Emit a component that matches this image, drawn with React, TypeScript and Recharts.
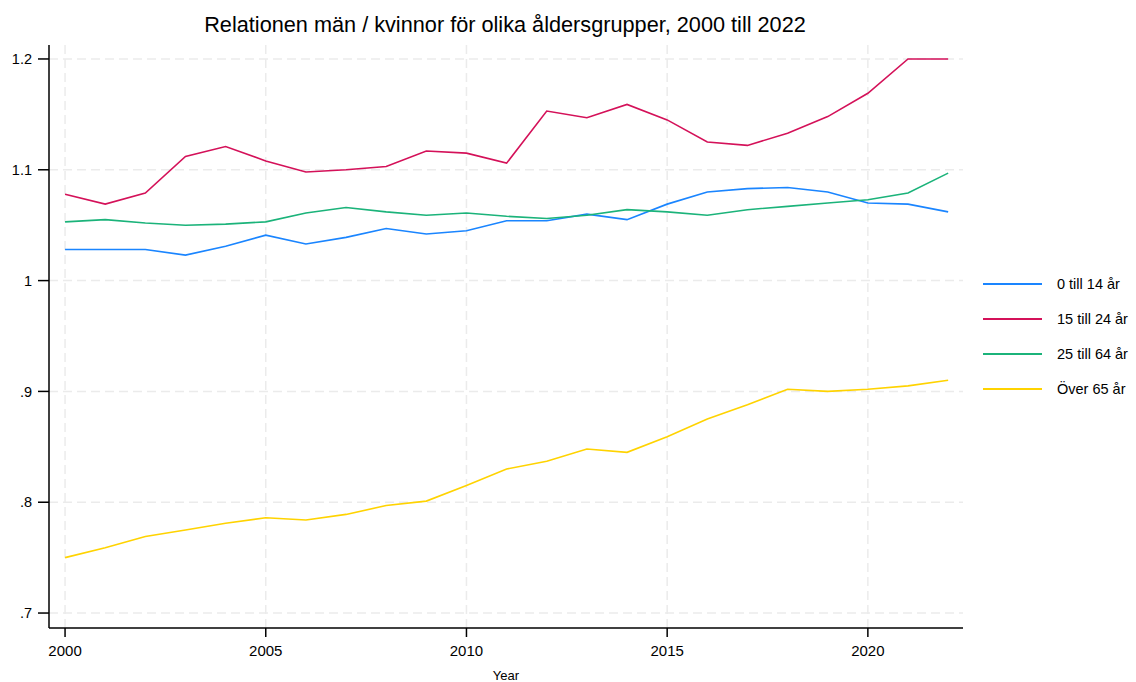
import React from 'react';
import { LineChart, Line, XAxis, YAxis, CartesianGrid, Legend } from 'recharts';

const years = [2000, 2001, 2002, 2003, 2004, 2005, 2006, 2007, 2008, 2009, 2010, 2011, 2012, 2013, 2014, 2015, 2016, 2017, 2018, 2019, 2020, 2021, 2022];
const age0to14 = [1.028, 1.028, 1.028, 1.023, 1.031, 1.041, 1.033, 1.039, 1.047, 1.042, 1.045, 1.054, 1.054, 1.060, 1.055, 1.069, 1.080, 1.083, 1.084, 1.080, 1.070, 1.069, 1.062];
const age15to24 = [1.078, 1.069, 1.079, 1.112, 1.121, 1.108, 1.098, 1.100, 1.103, 1.117, 1.115, 1.106, 1.153, 1.147, 1.159, 1.145, 1.125, 1.122, 1.133, 1.148, 1.169, 1.200, 1.200];
const age25to64 = [1.053, 1.055, 1.052, 1.050, 1.051, 1.053, 1.061, 1.066, 1.062, 1.059, 1.061, 1.058, 1.056, 1.059, 1.064, 1.062, 1.059, 1.064, 1.067, 1.070, 1.073, 1.079, 1.097];
const over65 = [0.750, 0.759, 0.769, 0.775, 0.781, 0.786, 0.784, 0.789, 0.797, 0.801, 0.815, 0.830, 0.837, 0.848, 0.845, 0.859, 0.875, 0.888, 0.902, 0.900, 0.902, 0.905, 0.910];

const seriesNames = ['0 till 14 år', '15 till 24 år', '25 till 64 år', 'Över 65 år'];
const seriesKeys = ['a', 'b', 'c', 'd'];
const seriesColors = ['#1a85ff', '#d41159', '#1bb37a', '#ffd300'];
const xTicks = [2000, 2005, 2010, 2015, 2020];
const yTicks = [0.7, 0.8, 0.9, 1.0, 1.1, 1.2];
const title = 'Relationen män / kvinnor för olika åldersgrupper, 2000 till 2022';
const xLabel = 'Year';

const data = years.map((y, i) => ({ year: y, a: age0to14[i], b: age15to24[i], c: age25to64[i], d: over65[i] }));

const FONT = '"Liberation Sans", Arial, sans-serif';

const fmtY = (v: number) => {
  const s = (Math.round(v * 10) / 10).toString();
  return s.startsWith('0.') ? s.slice(1) : s;
};

const LegendContent = () => (
  <div style={{ width: 173, fontFamily: FONT, fontSize: 14.5, color: '#000', position: 'relative', top: -5 }}>
    {seriesNames.map((n, i) => (
      <div key={n} style={{ display: 'flex', alignItems: 'center', height: 35 }}>
        <div style={{ marginLeft: 20, width: 59, height: 0, borderTop: `2px solid ${seriesColors[i]}` }} />
        <span style={{ marginLeft: 15, whiteSpace: 'pre' }}>{n}</span>
      </div>
    ))}
  </div>
);

export default function App() {
  return (
    <div style={{ position: 'absolute', left: 0, top: 0, width: 1136, height: 682, background: '#fff', fontFamily: FONT }}>
      <div style={{ position: 'absolute', left: 0, top: 12, width: 1010, textAlign: 'center', fontSize: 21.7, lineHeight: '26px', color: '#000' }}>{title}</div>
      <LineChart width={1136} height={682} data={data} margin={{ top: 45, right: 0, left: 0, bottom: 0 }}>
        <CartesianGrid stroke="#ebebeb" strokeWidth={1.5} strokeDasharray="9 5" verticalValues={xTicks} horizontalValues={yTicks} />
        <XAxis
          dataKey="year"
          type="number"
          domain={[1999.6, 2022.37]}
          ticks={xTicks}
          height={54}
          stroke="#000"
          strokeWidth={1.5}
          tickSize={9}
          tick={{ fill: '#000', fontSize: 15, fontFamily: FONT }}
          tickMargin={8}
          label={{ value: xLabel, position: 'insideBottom', offset: 2, fill: '#000', fontSize: 13, fontFamily: FONT }}
          allowDataOverflow
        />
        <YAxis
          type="number"
          domain={[0.6865, 1.2126]}
          ticks={yTicks}
          width={49}
          stroke="#000"
          strokeWidth={1.5}
          tickSize={11}
          tickMargin={6}
          tickFormatter={fmtY}
          tick={{ fill: '#000', fontSize: 14.5, fontFamily: FONT }}
          allowDataOverflow
        />
        <Legend layout="vertical" align="right" verticalAlign="middle" width={173} content={() => <LegendContent />} />
        {seriesKeys.map((k, i) => (
          <Line key={k} dataKey={k} name={seriesNames[i]} type="linear" stroke={seriesColors[i]} strokeWidth={1.6} dot={false} isAnimationActive={false} />
        ))}
      </LineChart>
    </div>
  );
}
